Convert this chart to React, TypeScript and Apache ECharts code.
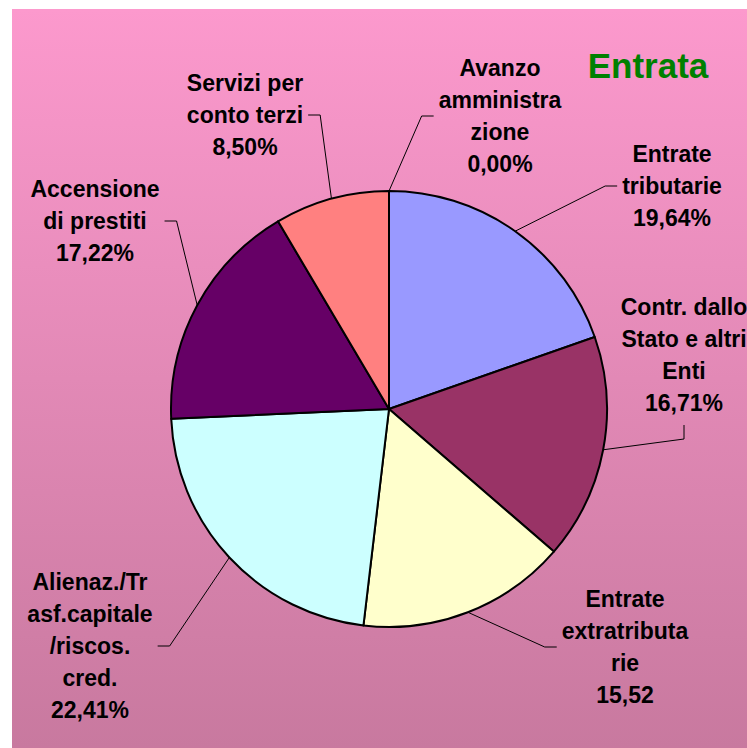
import React, { useEffect, useRef } from 'react';
import * as echarts from 'echarts';

// ---- data ----
const categories = [
  'Avanzo\namministra\nzione',
  'Entrate\ntributarie',
  'Contr. dallo\nStato e altri\nEnti',
  'Entrate\nextratributa\nrie',
  'Alienaz./Tr\nasf.capitale\n/riscos.\ncred.',
  'Accensione\ndi prestiti',
  'Servizi per\nconto terzi',
];
const values = [0, 19.64, 16.71, 15.52, 22.41, 17.22, 8.5];
const valueSuffix = ['%', '%', '%', '', '%', '%', '%'];
const titleText = 'Entrata';

// ---- styles / layout ----
const colors = ['#FFFFFF', '#9999FF', '#993366', '#FFFFCC', '#CCFFFF', '#660066', '#FF8080'];
const labelCenters = [
  [500, 116],
  [672, 186],
  [684, 355],
  [625, 647],
  [90, 646],
  [95, 221],
  [245, 115],
];
const lineSides = ['left', 'left', 'bottom', 'left', 'right', 'right', 'right'];
const FONT = '"Liberation Sans", Arial, sans-serif';

export default function App() {
  const ref = useRef<HTMLDivElement>(null);
  useEffect(() => {
    document.body.style.margin = '0';
    const chart = echarts.init(ref.current!, null, { renderer: 'svg' });
    chart.setOption({
      animation: false,
      backgroundColor: '#ffffff',
      title: {
        text: titleText,
        left: 643,
        top: 60,
        textAlign: 'center',
        textVerticalAlign: 'middle',
        textStyle: { color: '#008000', fontSize: 35, fontWeight: 'bold', fontFamily: FONT },
      } as any,
      graphic: [
        {
          type: 'rect',
          silent: true,
          z: -10,
          shape: { x: 12, y: 9, width: 735, height: 739 },
          style: {
            fill: new echarts.graphic.LinearGradient(0, 0, 0, 1, [
              { offset: 0, color: '#fc99cd' },
              { offset: 1, color: '#c8799f' },
            ]),
          },
        },
      ],
      series: [
        {
          type: 'pie',
          center: [389, 409],
          radius: 218,
          startAngle: 90,
          clockwise: true,
          avoidLabelOverlap: false,
          silent: true,
          data: categories.map((name, i) => ({
            name,
            value: values[i],
            itemStyle: { color: colors[i] },
          })),
          itemStyle: { borderColor: '#000000', borderWidth: 2 },
          label: {
            show: true,
            position: 'outside',
            color: '#000000',
            fontFamily: FONT,
            fontWeight: 'bold',
            fontSize: 23,
            lineHeight: 32,
            align: 'center',
            formatter: (p: any) =>
              `${p.name}\n${p.value.toFixed(2).replace('.', ',')}${valueSuffix[p.dataIndex]}`,
          },
          labelLine: { show: true, lineStyle: { color: '#000000', width: 1 } },
          labelLayout: (params: any) => {
            const i = params.dataIndex;
            const [cx, cy] = labelCenters[i];
            const w = params.labelRect.width;
            const h = params.labelRect.height;
            const p0 = params.labelLinePoints ? params.labelLinePoints[0] : [cx, cy];
            let elbow: number[];
            let end: number[];
            if (lineSides[i] === 'left') {
              end = [cx - w / 2 - 5, cy];
              elbow = [cx - w / 2 - 17, cy];
            } else if (lineSides[i] === 'right') {
              end = [cx + w / 2 + 5, cy];
              elbow = [cx + w / 2 + 17, cy];
            } else {
              end = [cx, cy + h / 2 + 6];
              elbow = [cx, cy + h / 2 + 20];
            }
            return {
              x: cx,
              y: cy,
              align: 'center',
              verticalAlign: 'middle',
              labelLinePoints: [p0, elbow, end],
            };
          },
        },
      ],
    });
    return () => chart.dispose();
  }, []);
  return <div ref={ref} style={{ width: 747, height: 748 }} />;
}
